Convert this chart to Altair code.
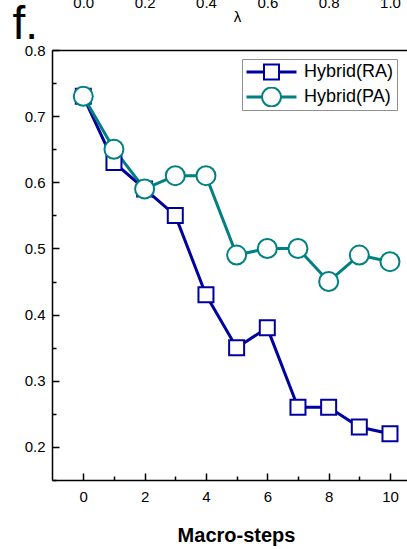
import json
import altair as alt
import pandas as pd

# ---- data ----
steps = [0, 1, 2, 3, 4, 5, 6, 7, 8, 9, 10]
hybrid_ra = [0.73, 0.63, 0.59, 0.55, 0.43, 0.35, 0.38, 0.26, 0.26, 0.23, 0.22]
hybrid_pa = [0.73, 0.65, 0.59, 0.61, 0.61, 0.49, 0.50, 0.50, 0.45, 0.49, 0.48]
series_names = ["Hybrid(RA)", "Hybrid(PA)"]
series_short = ["RA", "PA"]
series_colors = ["#0000a0", "#008080"]

x_major = [0, 2, 4, 6, 8, 10]
x_minor = [1, 3, 5, 7, 9]
y_major = [0.2, 0.3, 0.4, 0.5, 0.6, 0.7, 0.8]
y_minor = [0.15, 0.25, 0.35, 0.45, 0.55, 0.65, 0.75]
lambda_labels = ["0.0", "0.2", "0.4", "0.6", "0.8", "1.0"]

rows = []
for name, short, vals in zip(series_names, series_short, [hybrid_ra, hybrid_pa]):
    for s, v in zip(steps, vals):
        rows.append({"step": s, "value": v, "series": name, "short": short})
df = pd.DataFrame(rows)

W, H = 355, 430
FONT = "Liberation Sans"
xscale = alt.Scale(domain=[-1.02, 10.555], nice=False, zero=False)
yscale = alt.Scale(domain=[0.15, 0.8], nice=False, zero=False)

# legend 1 (behind): box + line stubs, labels invisible (only reserve width)
stub_legend = alt.Legend(
    title=None, orient="none", legendX=190, legendY=9, zindex=0,
    symbolType="stroke", symbolSize=2500, symbolStrokeWidth=3, symbolOffset=0,
    clipHeight=20, rowPadding=5, padding=3,
    labelFont=FONT, labelFontSize=18, labelOffset=6, labelOpacity=0,
    labelExpr="'Hybrid(' + datum.label + ')'",
    strokeColor="#909090", fillColor="white",
)
# legend 2 (front): hollow markers + labels
mark_legend = alt.Legend(
    title=None, orient="none", legendX=190, legendY=9, zindex=1,
    symbolStrokeWidth=2, symbolFillColor="white", symbolOffset=16,
    clipHeight=20, rowPadding=5, padding=3,
    labelFont=FONT, labelFontSize=18, labelColor="black", labelOffset=22,
)

base = alt.Chart(df)

lines = base.mark_line(strokeWidth=3).encode(
    x=alt.X("step:Q", scale=xscale, axis=alt.Axis(
        orient="bottom", values=x_major, ticks=False, tickSize=0, domain=True,
        domainColor="black", domainWidth=1.5, grid=False,
        labelFont=FONT, labelFontSize=15, labelColor="black", labelPadding=9,
        title="Macro-steps", titleFont=FONT, titleFontSize=20, titleFontWeight="bold",
        titleColor="black", titleX=184, titleY=55, titleBaseline="middle")),
    y=alt.Y("value:Q", scale=yscale, axis=alt.Axis(
        orient="left", values=y_major, format=".1f", ticks=False, tickSize=0,
        domain=True, domainColor="black", domainWidth=1.5, grid=False,
        labelFont=FONT, labelFontSize=15, labelColor="black", labelPadding=7,
        title="f.", titleAngle=0, titleAlign="left", titleBaseline="alphabetic",
        titleX=-40, titleY=-12, titleFont=FONT, titleFontSize=46,
        titleFontWeight="normal", titleColor="black")),
    stroke=alt.Stroke("short:N", scale=alt.Scale(domain=series_short, range=series_colors),
                      sort=series_short, legend=stub_legend),
)

points = base.mark_point(fill="white", fillOpacity=1, opacity=1, strokeWidth=2).encode(
    x=alt.X("step:Q", scale=xscale, axis=alt.Axis(
        orient="top", offset=-H, values=x_major, labels=False, domain=False,
        ticks=True, tickSize=7, tickWidth=1.5, tickColor="black", grid=False, title=None)),
    y=alt.Y("value:Q", scale=yscale, axis=alt.Axis(
        orient="right", offset=-W, values=y_major, labels=False, domain=False,
        ticks=True, tickSize=7, tickWidth=1.5, tickColor="black", grid=False, title=None)),
    color=alt.Color("series:N", scale=alt.Scale(domain=series_names, range=series_colors),
                    sort=series_names, legend=mark_legend),
    shape=alt.Shape("series:N", scale=alt.Scale(domain=series_names, range=["square", "circle"]),
                    sort=series_names, legend=mark_legend),
    size=alt.Size("series:N", scale=alt.Scale(domain=series_names, range=[225, 361]),
                  sort=series_names, legend=mark_legend),
)

minor = base.mark_point(opacity=0).encode(
    x=alt.X("step:Q", scale=xscale, axis=alt.Axis(
        orient="top", offset=-H, values=x_minor, labels=False, domain=False,
        ticks=True, tickSize=4, tickWidth=1.5, tickColor="black", grid=False, title=None)),
    y=alt.Y("value:Q", scale=yscale, axis=alt.Axis(
        orient="right", offset=-W, values=y_minor, labels=False, domain=False,
        ticks=True, tickSize=4, tickWidth=1.5, tickColor="black", grid=False, title=None)),
)

lam_expr = json.dumps(lambda_labels).replace('"', "'") + "[round(datum.value / 2)]"
lam = base.mark_point(opacity=0).encode(
    x=alt.X("step:Q", scale=xscale, axis=alt.Axis(
        orient="top", values=x_major, labelExpr=lam_expr, ticks=False, tickSize=0,
        domain=True, domainColor="black", domainWidth=1.5, grid=False,
        labelFont=FONT, labelFontSize=15, labelColor="black", labelPadding=43,
        labelBaseline="alphabetic",
        title="λ", titleFont=FONT, titleFontSize=15, titleFontWeight="normal",
        titleColor="black", titleX=185, titleY=-34, titleBaseline="middle",
        titleAlign="center")),
    y=alt.Y("value:Q", scale=yscale, axis=None),
)

chart = alt.layer(lines, points, minor, lam).resolve_axis(
    x="independent", y="independent"
).properties(
    width=W, height=H,
    autosize=alt.AutoSizeParams(type="none"),
    padding={"left": 52, "top": 50, "right": 0, "bottom": 69},
    background="white",
).configure_view(stroke=None)

chart.save("out.html", embed_options={"renderer": "svg", "actions": False})
